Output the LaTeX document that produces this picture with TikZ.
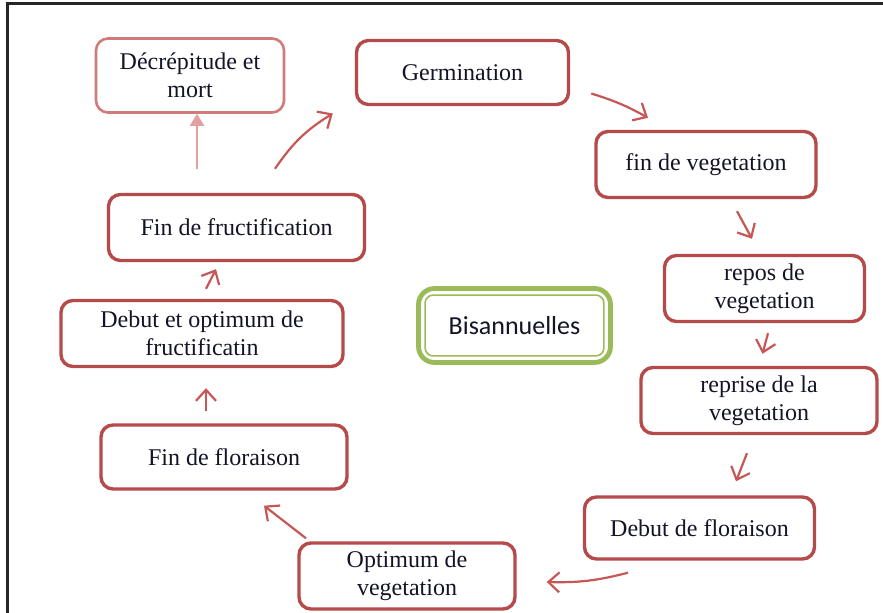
\documentclass[tikz,border=0pt]{standalone}
\usepackage{fontspec}
\setmainfont{Liberation Serif}
\newfontfamily\calfont{Carlito}
\usetikzlibrary{arrows.meta}
\definecolor{boxred}{HTML}{B44A4A}
\definecolor{arrred}{HTML}{C65755}
\definecolor{palered}{HTML}{D07A7A}
\definecolor{pinkarr}{HTML}{E3A0A0}
\definecolor{leaf}{HTML}{9BBB59}
\definecolor{ink}{HTML}{141428}
\tikzset{
  stage/.style={draw=boxred, line width=1.7pt, rounded corners=6pt, fill=white,
    text=ink, align=center, inner sep=2pt,
    font=\fontsize{12}{14}\selectfont},
  flow/.style={draw=arrred, line width=1.1pt, -{Straight Barb[length=5.5pt,width=10pt]}},
  endflow/.style={draw=pinkarr, line width=1.1pt, -{Triangle[length=6pt,width=7pt]}},
}
\begin{document}
\begin{tikzpicture}[x=0.5pt, y=-0.5pt]
\useasboundingbox (0,0) rectangle (883,613);
% frame edges
\draw[line width=1.5pt, black!85] (7,613) -- (7,4) -- (883,4);

% stages of the cycle
\node[stage, draw=palered, line width=1.3pt, minimum width=94pt, minimum height=37pt] (dec) at (190,75.5) {Décrépitude et\\mort};
\node[stage, minimum width=106pt, minimum height=32pt] (germ) at (462.5,72.5) {Germination};
\node[stage, minimum width=110pt, minimum height=33pt] (finveg) at (706,164.5) {fin de vegetation};
\node[stage, minimum width=100pt, minimum height=33pt] (repos) at (764.5,288.5) {repos de\\vegetation};
\node[stage, minimum width=118pt, minimum height=33pt] (reprise) at (759,400.5) {reprise de la\\vegetation};
\node[stage, minimum width=115pt, minimum height=31pt] (debflo) at (699.5,528) {Debut de floraison};
\node[stage, minimum width=108pt, minimum height=33pt] (optveg) at (407,576) {Optimum de\\vegetation};
\node[stage, minimum width=123pt, minimum height=32pt] (finflo) at (224,457) {Fin de floraison};
\node[stage, minimum width=141pt, minimum height=33pt] (debopt) at (202,333.5) {Debut et optimum de\\fructificatin};
\node[stage, minimum width=128pt, minimum height=33pt] (finfru) at (236.5,227.5) {Fin de fructification};

% central label with double green border
\node[draw=leaf, line width=2.4pt, rounded corners=8pt, fill=white, text=ink,
      minimum width=96pt, minimum height=37pt, font=\calfont\fontsize{13}{15}\selectfont]
      (bis) at (514.5,325.5) {Bisannuelles};
\draw[leaf, line width=0.8pt, rounded corners=4pt]
  ([shift={(9,9)}]bis.north west) rectangle ([shift={(-9,-9)}]bis.south east);

% connectors
\draw[endflow] ([shift={(-39.5,-24)}]finfru.north) -- ([shift={(7,0)}]dec.south);
\draw[flow] ([shift={(38.5,-24)}]finfru.north) to[bend left=12] ([shift={(-22,41)}]germ.west);
\draw[flow] ([shift={(21,21)}]germ.east) to[bend left=6] ([shift={(-58,-12)}]finveg.north);
\draw[flow] ([shift={(31,12)}]finveg.south) -- ([shift={(-12.5,-15)}]repos.north);
\draw[flow] ([shift={(3.5,10)}]repos.south) -- ([shift={(3.5,-12)}]reprise.north);
\draw[flow] ([shift={(-12,18)}]reprise.south) -- ([shift={(36.5,-14)}]debflo.north);
\draw[flow] ([shift={(-71.5,12)}]debflo.south) to[bend left=8] ([shift={(30,6)}]optveg.east);
\draw[flow] ([shift={(-101,-3)}]optveg.north) -- ([shift={(40,15)}]finflo.south);
\draw[flow] ([shift={(-18,-12)}]finflo.north) -- ([shift={(4,20)}]debopt.south);
\draw[flow] ([shift={(4,-10)}]debopt.north) -- ([shift={(-20.5,7)}]finfru.south);
\end{tikzpicture}
\end{document}
